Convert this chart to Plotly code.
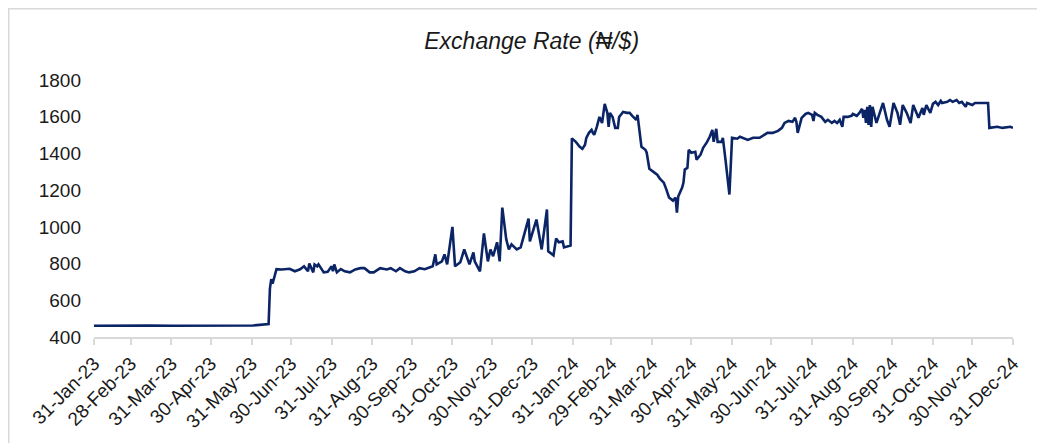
import pandas as pd
import plotly.graph_objects as go

dates = [
    "2023-01-31", "2023-02-10", "2023-02-20", "2023-03-01", "2023-03-15", "2023-04-01",
    "2023-04-15", "2023-05-01", "2023-05-15", "2023-06-01", "2023-06-13", "2023-06-14",
    "2023-06-15", "2023-06-16", "2023-06-19", "2023-06-23", "2023-06-29", "2023-07-03",
    "2023-07-07", "2023-07-10", "2023-07-13", "2023-07-14", "2023-07-17", "2023-07-18",
    "2023-07-20", "2023-07-21", "2023-07-25", "2023-07-28", "2023-07-31", "2023-08-01",
    "2023-08-02", "2023-08-04", "2023-08-07", "2023-08-10", "2023-08-14", "2023-08-18",
    "2023-08-22", "2023-08-25", "2023-08-29", "2023-09-01", "2023-09-06", "2023-09-11",
    "2023-09-14", "2023-09-18", "2023-09-21", "2023-09-25", "2023-09-28", "2023-10-02",
    "2023-10-06", "2023-10-10", "2023-10-16", "2023-10-18", "2023-10-19", "2023-10-23",
    "2023-10-25", "2023-10-27", "2023-10-31", "2023-11-02", "2023-11-06", "2023-11-09",
    "2023-11-13", "2023-11-16", "2023-11-17", "2023-11-21", "2023-11-24", "2023-11-27",
    "2023-11-29", "2023-12-01", "2023-12-04", "2023-12-06", "2023-12-08", "2023-12-11",
    "2023-12-13", "2023-12-15", "2023-12-19", "2023-12-22", "2023-12-28", "2023-12-29",
    "2024-01-03", "2024-01-07", "2024-01-11", "2024-01-12", "2024-01-16", "2024-01-18",
    "2024-01-20", "2024-01-23", "2024-01-24", "2024-01-27", "2024-01-29", "2024-01-30",
    "2024-02-02", "2024-02-05", "2024-02-07", "2024-02-09", "2024-02-10", "2024-02-12",
    "2024-02-14", "2024-02-15", "2024-02-16", "2024-02-18", "2024-02-20", "2024-02-22",
    "2024-02-24", "2024-02-26", "2024-02-27", "2024-02-28", "2024-03-01", "2024-03-03",
    "2024-03-05", "2024-03-06", "2024-03-09", "2024-03-12", "2024-03-14", "2024-03-16",
    "2024-03-19", "2024-03-20", "2024-03-22", "2024-03-23", "2024-03-26", "2024-03-27",
    "2024-03-29", "2024-04-01", "2024-04-04", "2024-04-06", "2024-04-09", "2024-04-11",
    "2024-04-13", "2024-04-16", "2024-04-18", "2024-04-19", "2024-04-20", "2024-04-23",
    "2024-04-24", "2024-04-25", "2024-04-27", "2024-04-28", "2024-04-30", "2024-05-03",
    "2024-05-04", "2024-05-07", "2024-05-09", "2024-05-12", "2024-05-14", "2024-05-16",
    "2024-05-17", "2024-05-19", "2024-05-20", "2024-05-23", "2024-05-24", "2024-05-26",
    "2024-05-29", "2024-05-31", "2024-06-04", "2024-06-06", "2024-06-08", "2024-06-12",
    "2024-06-16", "2024-06-21", "2024-06-27", "2024-07-01", "2024-07-05", "2024-07-08",
    "2024-07-10", "2024-07-13", "2024-07-16", "2024-07-18", "2024-07-19", "2024-07-20",
    "2024-07-23", "2024-07-26", "2024-07-28", "2024-07-31", "2024-08-01", "2024-08-02",
    "2024-08-04", "2024-08-07", "2024-08-10", "2024-08-12", "2024-08-15", "2024-08-17",
    "2024-08-19", "2024-08-21", "2024-08-23", "2024-08-24", "2024-08-27", "2024-08-30",
    "2024-08-31", "2024-09-03", "2024-09-05", "2024-09-07", "2024-09-08", "2024-09-09",
    "2024-09-10", "2024-09-11", "2024-09-12", "2024-09-13", "2024-09-14", "2024-09-15",
    "2024-09-18", "2024-09-21", "2024-09-23", "2024-09-26", "2024-09-28", "2024-10-01",
    "2024-10-04", "2024-10-06", "2024-10-08", "2024-10-11", "2024-10-14", "2024-10-16",
    "2024-10-17", "2024-10-20", "2024-10-23", "2024-10-24", "2024-10-26", "2024-10-29",
    "2024-10-31", "2024-11-02", "2024-11-04", "2024-11-06", "2024-11-07", "2024-11-11",
    "2024-11-13", "2024-11-15", "2024-11-18", "2024-11-20", "2024-11-22", "2024-11-25",
    "2024-11-26", "2024-11-30", "2024-12-02", "2024-12-12", "2024-12-13", "2024-12-19",
    "2024-12-23", "2024-12-29", "2024-12-31",
]

rates = [
    461, 462, 461, 461, 462, 461,
    462, 462, 463, 463, 470, 664,
    715, 690, 770, 768, 772, 758,
    769, 785, 758, 800, 752, 795,
    785, 796, 752, 755, 785, 758,
    795, 752, 770, 758, 752, 768,
    775, 775, 752, 752, 775, 768,
    775, 758, 775, 758, 752, 758,
    775, 769, 785, 850, 796, 812,
    850, 796, 1000, 785, 807, 877,
    796, 861, 812, 758, 964, 812,
    877, 840, 916, 812, 1105, 932,
    877, 905, 877, 888, 1045, 921,
    1040, 877, 1095, 867, 845, 937,
    916, 921, 888, 894, 898, 1482,
    1463, 1436, 1425, 1447, 1485, 1512,
    1528, 1512, 1501, 1545, 1599, 1566,
    1670, 1621, 1545, 1621, 1599, 1539,
    1539, 1599, 1626, 1621, 1621, 1605,
    1583, 1610, 1512, 1436, 1420, 1404,
    1317, 1301, 1284, 1263, 1241, 1203,
    1160, 1143, 1160, 1078, 1165, 1214,
    1241, 1312, 1322, 1420, 1404, 1409,
    1366, 1393, 1431, 1463, 1491, 1528,
    1463, 1534, 1463, 1463, 1485, 1366,
    1176, 1485, 1480, 1491, 1485, 1474,
    1485, 1485, 1512, 1512, 1523, 1539,
    1566, 1577, 1572, 1594, 1572, 1512,
    1594, 1615, 1621, 1610, 1577, 1621,
    1610, 1599, 1572, 1583, 1566, 1577,
    1566, 1583, 1545, 1599, 1599, 1605,
    1615, 1605, 1621, 1643, 1594, 1637,
    1566, 1654, 1556, 1664, 1545, 1654,
    1566, 1637, 1675, 1583, 1545, 1675,
    1621, 1556, 1664, 1621, 1566, 1664,
    1648, 1594, 1648, 1610, 1664, 1621,
    1670, 1681, 1664, 1686, 1675, 1681,
    1691, 1681, 1691, 1675, 1681, 1654,
    1675, 1664, 1675, 1675, 1539, 1545,
    1539, 1545, 1539,
]

tick_dates = [
    "2023-01-31", "2023-02-28", "2023-03-31", "2023-04-30", "2023-05-31", "2023-06-30",
    "2023-07-31", "2023-08-31", "2023-09-30", "2023-10-31", "2023-11-30", "2023-12-31",
    "2024-01-31", "2024-02-29", "2024-03-31", "2024-04-30", "2024-05-31", "2024-06-30",
    "2024-07-31", "2024-08-31", "2024-09-30", "2024-10-31", "2024-11-30", "2024-12-31",
]
tick_text = [pd.Timestamp(d).strftime("%d-%b-%y") for d in tick_dates]

FONT = "Liberation Sans, Arial, DejaVu Sans, sans-serif"
# page has an 8px body margin, so the figure is sized/offset to compensate
W, H = 1037, 435
L, R, T, B = 86, 32, 72, 106
pw, ph = W - L - R, H - T - B

def px(x):
    return (x - L) / pw

def py(y):
    return (H - B - y) / ph

fig = go.Figure(
    go.Scatter(
        x=pd.to_datetime(dates),
        y=rates,
        mode="lines",
        line=dict(color="#0A2466", width=2.6),
        hoverinfo="x+y",
    )
)

fig.update_layout(
    width=W,
    height=H,
    margin=dict(l=L, r=R, t=T, b=B),
    paper_bgcolor="white",
    plot_bgcolor="white",
    showlegend=False,
    font=dict(family=FONT, size=19, color="#1a1a1a"),
    title=dict(
        text="<i>Exchange Rate (₦/$)</i>",
        x=0.505,
        xanchor="center",
        y=1 - 33 / H,
        yanchor="middle",
        font=dict(family=FONT, size=23, color="#1a1a1a"),
    ),
    shapes=[
        dict(type="rect", xref="paper", yref="paper", layer="below",
             x0=px(0.75), x1=px(W + 5), y0=py(H + 5), y1=py(0.75),
             fillcolor="rgba(0,0,0,0)", line=dict(color="#D9D9D9", width=1.5)),
    ],
)

fig.update_xaxes(
    type="date",
    range=["2023-01-31", "2024-12-31"],
    tickmode="array",
    tickvals=pd.to_datetime(tick_dates),
    ticktext=tick_text,
    tickangle=-45,
    showgrid=False,
    showline=True,
    linecolor="#D9D9D9",
    linewidth=2,
    ticks="outside",
    ticklen=6,
    tickwidth=1.5,
    tickcolor="#D9D9D9",
    zeroline=False,
    tickfont=dict(family=FONT, size=19, color="#1a1a1a"),
)

fig.update_yaxes(
    range=[400, 1800],
    tick0=400,
    dtick=200,
    showgrid=False,
    showline=False,
    zeroline=False,
    ticks="",
    ticklabelstandoff=12,
    tickfont=dict(family=FONT, size=19, color="#1a1a1a"),
)

fig.write_html("out.html")
